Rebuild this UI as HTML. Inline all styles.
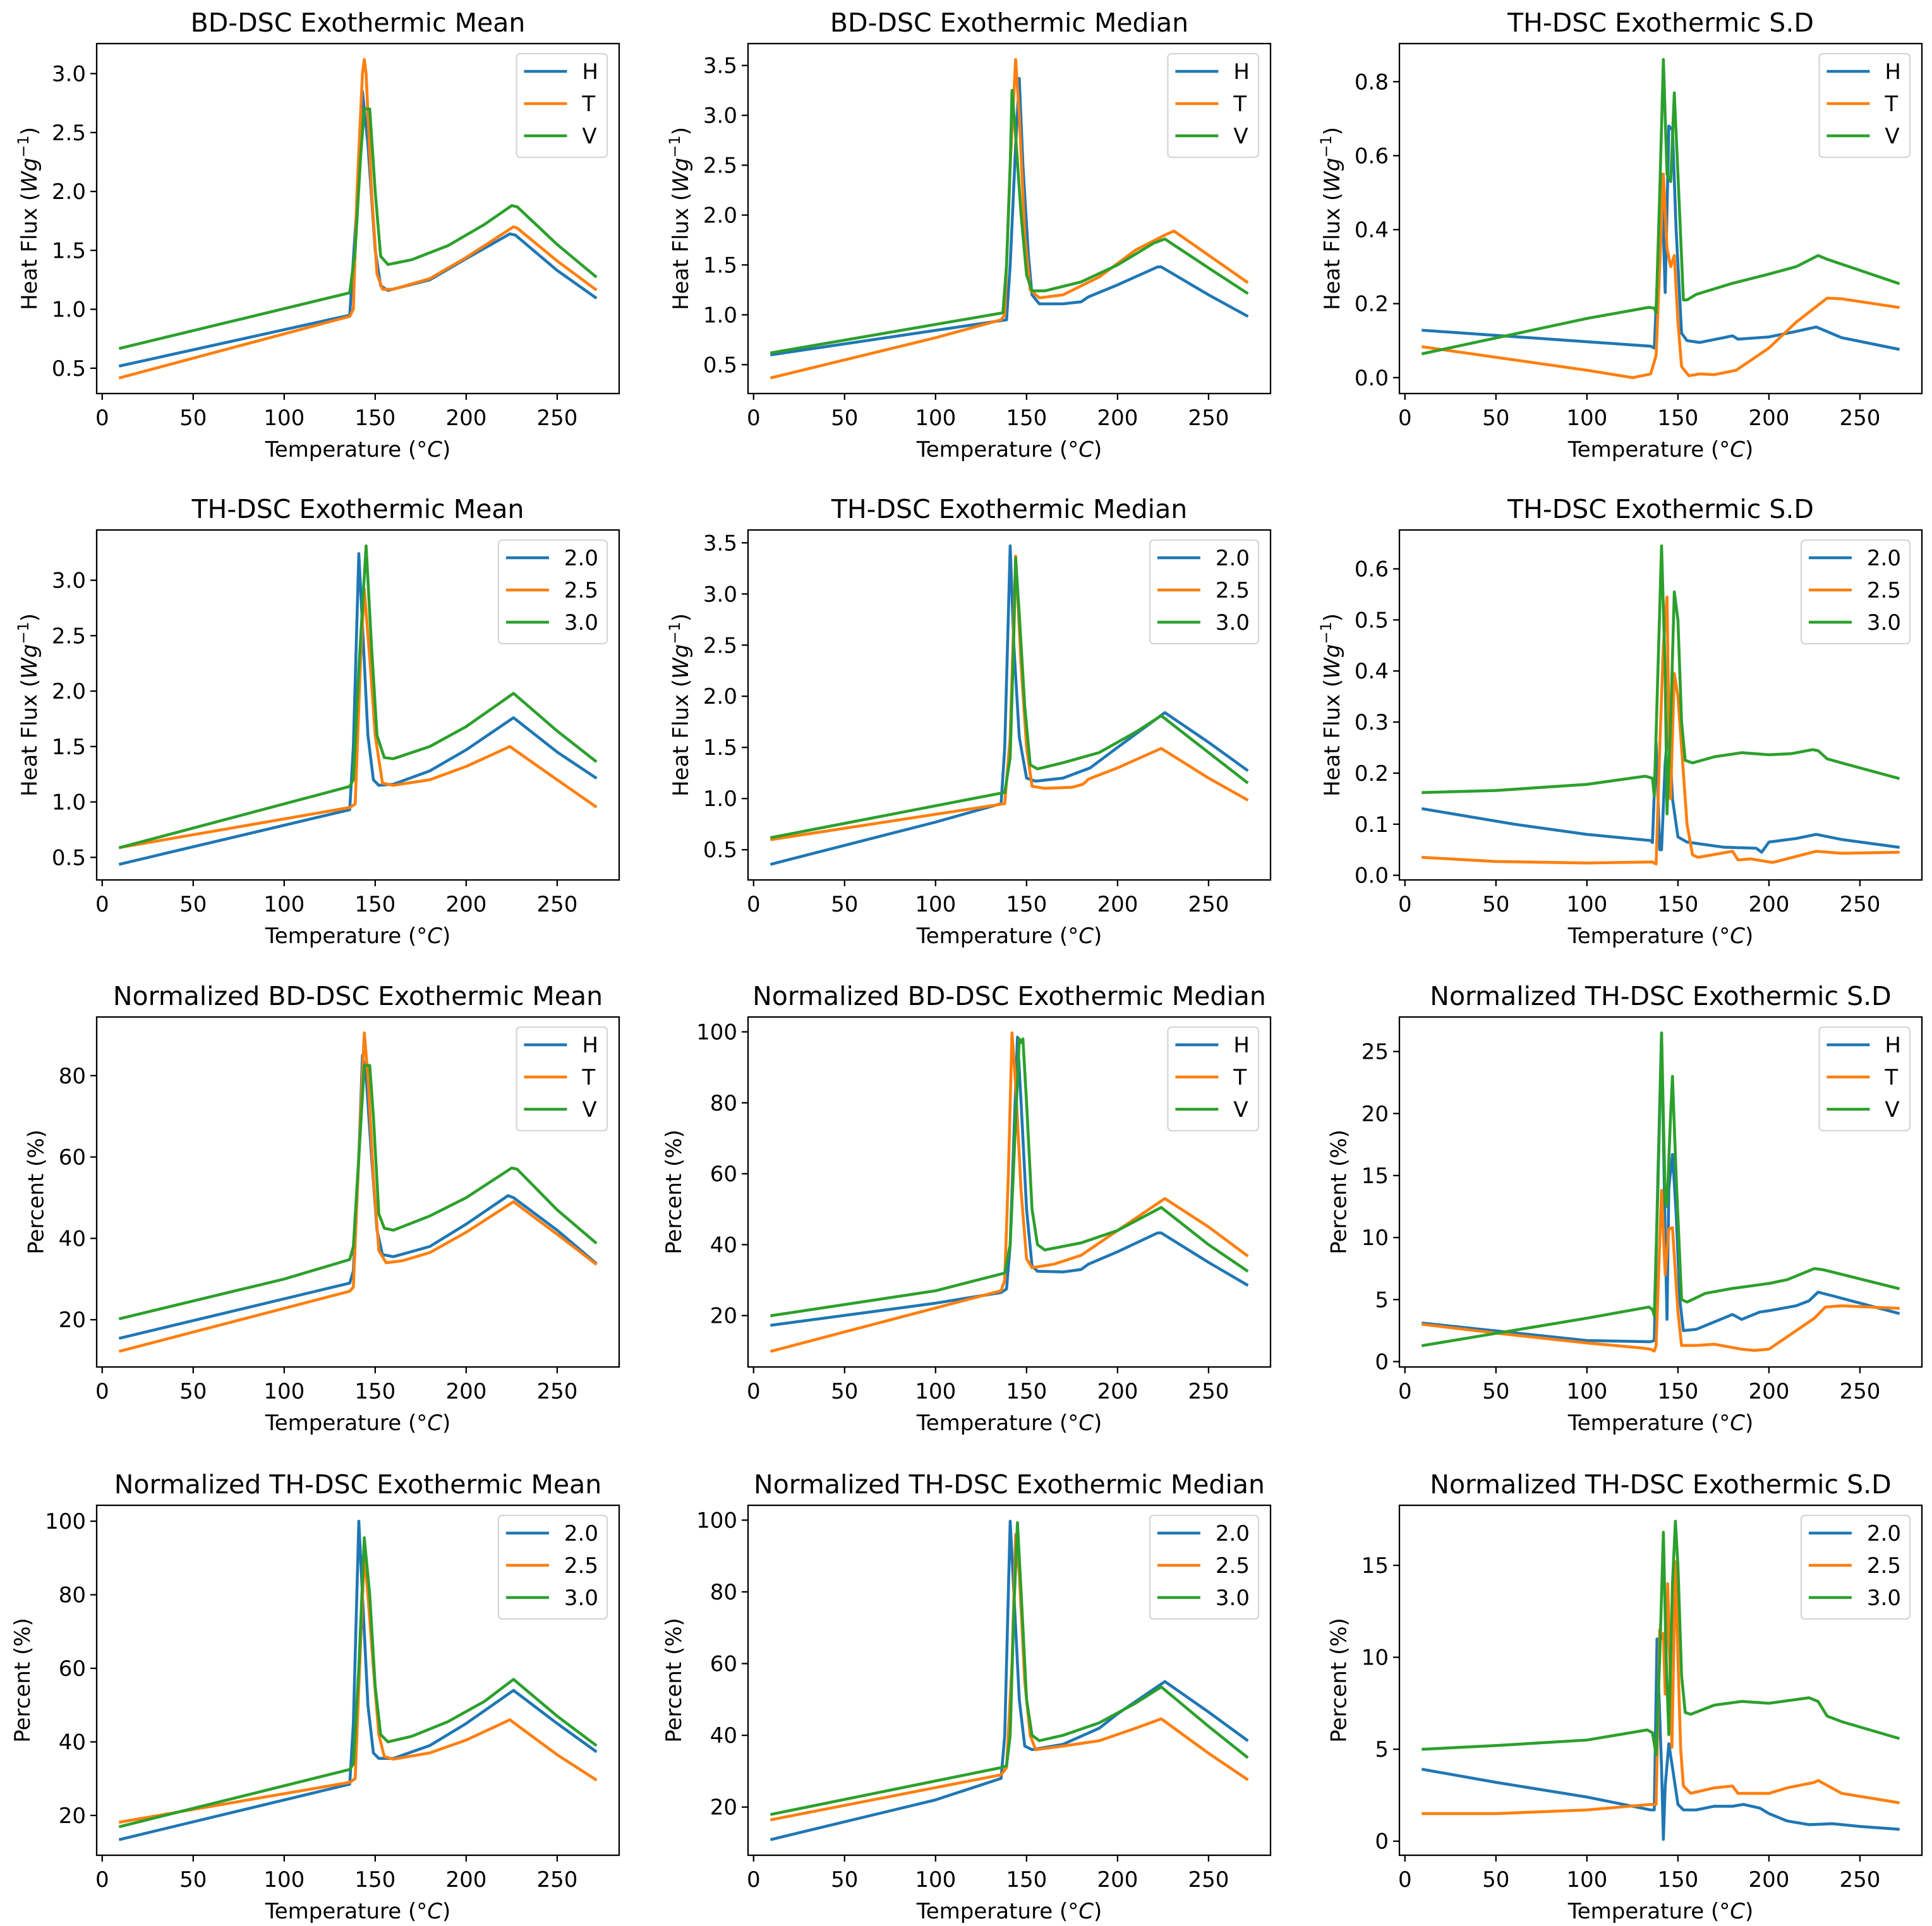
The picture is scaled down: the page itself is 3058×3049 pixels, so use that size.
<!DOCTYPE html>
<html><head><meta charset="utf-8">
<style>
html,body{margin:0;padding:0;background:#fff;}
svg{display:block;font-family:"DejaVu Sans","Liberation Sans",sans-serif;}
</style></head>
<body>
<svg id="fig" xmlns="http://www.w3.org/2000/svg" width="3058" height="3049" viewBox="0 0 3058 3049">
<rect x="0" y="0" width="3058" height="3049" fill="#fff"/>
</svg>
<script>
// ---------- Data (temperature °C, value) ----------
const xTicks = [0, 50, 100, 150, 200, 250];
const xTickLabels = ["0", "50", "100", "150", "200", "250"];
const hflLabels = ["H", "T", "V"];
const rateLabels = ["2.0", "2.5", "3.0"];

const bdMeanH = [[10,0.52],[136,0.95],[140,1.9],[143,2.85],[146,2.4],[150,1.5],[153,1.2],[157,1.16],[180,1.25],[200,1.43],[224,1.64],[227,1.63],[250,1.33],[271,1.1]];
const bdMeanT = [[10,0.42],[136,0.94],[138,1.0],[140,2.0],[143,3.0],[144,3.12],[145,3.0],[148,2.0],[151,1.3],[154,1.17],[160,1.17],[180,1.26],[200,1.44],[226,1.7],[228,1.69],[250,1.41],[271,1.17]];
const bdMeanV = [[10,0.67],[136,1.14],[139,1.5],[142,2.3],[144,2.7],[147,2.7],[150,2.0],[153,1.45],[157,1.38],[170,1.42],[190,1.54],[210,1.72],[225,1.88],[228,1.87],[250,1.55],[271,1.28]];
const bdMeanTicks = [0.5,1.0,1.5,2.0,2.5,3.0];
const bdMeanTickLabels = ["0.5","1.0","1.5","2.0","2.5","3.0"];

const bdMedH = [[10,0.6],[139,0.95],[141,1.5],[144,2.7],[146,3.37],[148,2.5],[151,1.6],[153,1.2],[157,1.11],[170,1.11],[180,1.13],[184,1.18],[200,1.3],[222,1.48],[224,1.48],[250,1.2],[271,0.99]];
const bdMedT = [[10,0.37],[100,0.77],[136,0.95],[138,1.0],[141,2.5],[144,3.56],[146,3.0],[149,1.8],[152,1.25],[157,1.17],[170,1.2],[190,1.38],[210,1.65],[226,1.8],[231,1.84],[271,1.33]];
const bdMedV = [[10,0.62],[137,1.02],[139,1.5],[141,2.5],[142,3.25],[144,2.8],[147,2.0],[150,1.4],[153,1.24],[160,1.24],[180,1.33],[200,1.5],[220,1.72],[226,1.76],[250,1.47],[271,1.22]];
const bdMedTicks = [0.5,1.0,1.5,2.0,2.5,3.0,3.5];
const bdMedTickLabels = ["0.5","1.0","1.5","2.0","2.5","3.0","3.5"];

const sd1H = [[10,0.128],[135,0.085],[137,0.08],[139,0.3],[141,0.55],[143,0.23],[145,0.68],[147,0.67],[149,0.4],[152,0.12],[155,0.1],[162,0.095],[175,0.108],[180,0.113],[183,0.104],[200,0.11],[215,0.125],[226,0.137],[240,0.108],[271,0.077]];
const sd1T = [[10,0.083],[100,0.02],[125,0.0],[135,0.01],[138,0.06],[140,0.3],[142,0.55],[144,0.35],[146,0.3],[148,0.33],[150,0.15],[152,0.03],[156,0.005],[162,0.01],[170,0.008],[182,0.02],[200,0.08],[215,0.15],[232,0.215],[240,0.213],[271,0.19]];
const sd1V = [[10,0.065],[100,0.16],[134,0.19],[137,0.188],[138,0.175],[140,0.5],[142,0.86],[144,0.55],[146,0.53],[148,0.77],[150,0.55],[153,0.21],[155,0.21],[160,0.225],[180,0.255],[200,0.28],[215,0.3],[227,0.33],[232,0.32],[271,0.255]];
const sd1Ticks = [0.0,0.2,0.4,0.6,0.8];
const sd1TickLabels = ["0.0","0.2","0.4","0.6","0.8"];

const thMean20 = [[10,0.44],[136,0.93],[138,1.5],[141,3.24],[143,2.6],[146,1.6],[149,1.2],[152,1.15],[160,1.16],[180,1.28],[200,1.47],[226,1.76],[250,1.45],[271,1.22]];
const thMean25 = [[10,0.59],[136,0.95],[139,0.98],[142,2.3],[144,2.92],[147,2.3],[150,1.6],[154,1.17],[160,1.15],[180,1.2],[200,1.32],[224,1.5],[250,1.2],[271,0.96]];
const thMean30 = [[10,0.59],[136,1.14],[138,1.2],[141,2.2],[145,3.31],[148,2.4],[151,1.6],[155,1.4],[160,1.39],[180,1.5],[200,1.68],[226,1.98],[250,1.64],[271,1.37]];
const thMeanTicks = [0.5,1.0,1.5,2.0,2.5,3.0];
const thMeanTickLabels = ["0.5","1.0","1.5","2.0","2.5","3.0"];

const thMed20 = [[10,0.36],[100,0.77],[136,0.95],[138,1.5],[140,2.8],[141,3.47],[143,2.5],[146,1.6],[150,1.2],[155,1.17],[170,1.2],[185,1.3],[200,1.5],[226,1.84],[250,1.55],[271,1.28]];
const thMed25 = [[10,0.6],[138,0.95],[141,1.6],[144,3.37],[147,2.3],[150,1.5],[153,1.12],[160,1.1],[175,1.11],[181,1.14],[184,1.19],[200,1.3],[224,1.49],[250,1.2],[271,0.99]];
const thMed30 = [[10,0.62],[138,1.06],[141,1.4],[143,2.6],[144,3.35],[146,2.8],[149,1.9],[152,1.33],[156,1.29],[170,1.35],[190,1.45],[210,1.65],[224,1.81],[250,1.45],[271,1.16]];
const thMedTicks = [0.5,1.0,1.5,2.0,2.5,3.0,3.5];
const thMedTickLabels = ["0.5","1.0","1.5","2.0","2.5","3.0","3.5"];

const sd2_20 = [[10,0.13],[60,0.1],[100,0.08],[135,0.068],[136,0.064],[138,0.26],[140,0.05],[141,0.05],[143,0.22],[145,0.3],[147,0.15],[150,0.075],[155,0.065],[175,0.055],[193,0.053],[196,0.045],[200,0.065],[215,0.072],[226,0.08],[240,0.07],[271,0.055]];
const sd2_25 = [[10,0.035],[50,0.027],[100,0.024],[136,0.026],[138,0.022],[140,0.25],[142,0.45],[144,0.545],[145,0.3],[146,0.15],[148,0.395],[150,0.35],[155,0.1],[158,0.04],[161,0.035],[180,0.047],[183,0.03],[190,0.032],[202,0.025],[226,0.047],[240,0.043],[271,0.045]];
const sd2_30 = [[10,0.162],[50,0.166],[100,0.178],[132,0.194],[136,0.19],[137,0.155],[139,0.4],[141,0.645],[143,0.4],[144,0.12],[146,0.3],[148,0.555],[150,0.5],[152,0.3],[154,0.225],[158,0.22],[170,0.232],[185,0.24],[200,0.236],[212,0.238],[224,0.246],[227,0.244],[232,0.228],[240,0.22],[271,0.19]];
const sd2Ticks = [0.0,0.1,0.2,0.3,0.4,0.5,0.6];
const sd2TickLabels = ["0.0","0.1","0.2","0.3","0.4","0.5","0.6"];

const nbdMeanH = [[10,15.5],[136,29],[138,32],[141,60],[143,85],[145,80],[148,60],[151,42],[154,36],[160,35.5],[180,38],[200,43.5],[223,50.5],[226,50],[250,42],[271,34]];
const nbdMeanT = [[10,12.3],[136,27],[138,28],[141,60],[144,90.5],[146,80],[149,55],[152,37],[156,34],[165,34.5],[180,36.5],[200,41.5],[226,49],[250,41],[271,33.8]];
const nbdMeanV = [[10,20.3],[100,30],[136,34.8],[138,38],[141,60],[144,82.5],[147,82.5],[149,70],[152,46],[155,42.5],[160,42],[180,45.5],[200,50],[225,57.3],[228,57],[250,47],[271,39]];
const nbdMeanTicks = [20,40,60,80];
const nbdMeanTickLabels = ["20","40","60","80"];

const nbdMedH = [[10,17.3],[100,23.5],[136,26.5],[139,27.5],[141,40],[143,70],[145,98.5],[147,80],[150,50],[153,34],[156,32.5],[170,32.3],[180,33],[184,34.5],[200,38],[222,43.3],[224,43.3],[250,35],[271,28.7]];
const nbdMedT = [[10,10],[136,27],[138,30],[140,60],[142,99.7],[144,85],[147,55],[150,36],[153,33.5],[165,34.5],[180,37],[200,44],[226,53],[250,45],[271,37]];
const nbdMedV = [[10,20],[100,27],[138,32],[141,40],[144,75],[146,98],[147,97],[148,98],[150,80],[153,50],[156,40],[160,38.5],[180,40.5],[200,44],[224,50.5],[250,40],[271,32.7]];
const nbdMedTicks = [20,40,60,80,100];
const nbdMedTickLabels = ["20","40","60","80","100"];

const nsd1H = [[10,3.1],[100,1.7],[135,1.6],[137,1.7],[139,15],[141,26.5],[143,10],[144,3.4],[145,14],[147,16.7],[149,12],[151,5],[153,2.5],[160,2.6],[180,3.8],[185,3.4],[190,3.7],[195,4.0],[200,4.1],[215,4.5],[222,4.9],[227,5.6],[235,5.3],[271,3.9]];
const nsd1T = [[10,3.0],[50,2.3],[100,1.5],[130,1.1],[135,1.0],[137,0.85],[138,1.3],[141,13.8],[143,7.0],[145,10.7],[147,10.8],[150,4],[152,1.3],[160,1.3],[170,1.4],[185,1.0],[192,0.9],[200,1.0],[210,2.0],[225,3.5],[231,4.4],[240,4.5],[271,4.3]];
const nsd1V = [[10,1.3],[100,3.5],[134,4.4],[136,4.2],[137,3.7],[139,14],[141,26.5],[143,13],[144,12.5],[146,20],[147,23],[149,15],[152,5],[155,4.8],[165,5.5],[180,5.9],[200,6.3],[210,6.6],[225,7.5],[230,7.4],[271,5.9]];
const nsd1Ticks = [0,5,10,15,20,25];
const nsd1TickLabels = ["0","5","10","15","20","25"];

const nthMean20 = [[10,13.5],[136,28.5],[138,45],[141,100],[143,80],[146,50],[149,37],[152,35.5],[160,35.5],[180,39],[200,45],[226,54],[250,45],[271,37.5]];
const nthMean25 = [[10,18.2],[136,29],[139,30],[141,55],[144,91],[146,80],[149,60],[152,42],[155,36],[160,35.3],[180,37],[200,40.5],[224,46],[250,36.5],[271,29.8]];
const nthMean30 = [[10,17],[136,32.5],[138,34],[141,60],[144,95.5],[147,80],[150,55],[153,42],[157,40],[170,41.5],[190,45.5],[210,51],[226,57],[250,47],[271,39.2]];
const nthMeanTicks = [20,40,60,80,100];
const nthMeanTickLabels = ["20","40","60","80","100"];

const nthMed20 = [[10,11],[100,22],[136,28],[138,40],[140,80],[141,99.7],[143,80],[146,50],[149,37],[153,36],[170,37.5],[190,42],[200,46],[226,55],[250,46.5],[271,38.7]];
const nthMed25 = [[10,16.5],[136,29],[139,31],[142,60],[144,96],[146,85],[149,55],[152,40],[155,36],[170,37],[190,38.5],[210,42],[224,44.6],[250,35],[271,27.8]];
const nthMed30 = [[10,18],[136,31],[139,31.5],[141,40],[143,75],[145,99.3],[147,80],[150,50],[153,40],[157,38.5],[170,40],[190,43.5],[210,49],[224,53.5],[250,42.5],[271,34]];
const nthMedTicks = [20,40,60,80,100];
const nthMedTickLabels = ["20","40","60","80","100"];

const nsd2_20 = [[10,3.9],[50,3.2],[100,2.4],[135,1.7],[137,1.7],[138.5,11],[141,4],[142,0.1],[143,3],[145,5.3],[147,4],[150,2.0],[153,1.7],[160,1.7],[170,1.9],[180,1.9],[186,2.0],[195,1.8],[200,1.5],[210,1.1],[222,0.9],[235,0.95],[250,0.8],[271,0.65]];
const nsd2_25 = [[10,1.5],[50,1.5],[100,1.7],[135,2.0],[138,2.0],[140,11.5],[141,11],[142,11.3],[143,8],[144.4,14],[146.7,5.1],[148.6,15.2],[150,10],[151.5,5],[153,3],[157,2.6],[170,2.9],[180,3.0],[183,2.6],[190,2.6],[200,2.6],[210,2.9],[225,3.2],[227,3.3],[240,2.6],[271,2.1]];
const nsd2_30 = [[10,5.0],[50,5.2],[100,5.5],[133,6.05],[136,5.9],[138,4.7],[140,10],[142,16.8],[143.5,10],[145,5.8],[147,14],[148.6,17.4],[150,15],[152,9],[154,7.0],[157,6.9],[170,7.4],[185,7.6],[200,7.5],[222,7.8],[227,7.6],[232,6.8],[240,6.5],[271,5.6]];
const nsd2Ticks = [0,5,10,15];
const nsd2TickLabels = ["0","5","10","15"];

// ---------- Layout ----------
const NS = "http://www.w3.org/2000/svg";
const svg = document.getElementById("fig");
const colLeft = [153, 1184, 2215];
const rowTop = [69, 839, 1610, 2383];
const AXW = 827, AXH = 554;
const COLORS = ["#1f77b4", "#ff7f0e", "#2ca02c"];
const XMIN = 10, XMAX = 271;
const xPad = (XMAX - XMIN) * 0.05;
const FS = 34, TFS = 41;

function mk(tag, attrs, parent) {
  const el = document.createElementNS(NS, tag);
  for (const k in attrs) el.setAttribute(k, attrs[k]);
  (parent || svg).appendChild(el);
  return el;
}

function drawPlot(opts) {
  const L = colLeft[opts.col], T = rowTop[opts.row];
  const g = mk("g", {});
  
  
  let ymin = Infinity, ymax = -Infinity;
  opts.series.forEach(s => s.forEach(p => { ymin = Math.min(ymin, p[1]); ymax = Math.max(ymax, p[1]); }));
  const yr = ymax - ymin;
  const y0 = ymin - 0.05 * yr, y1 = ymax + 0.05 * yr;
  const x0 = XMIN - xPad, x1 = XMAX + xPad;
  const sx = v => L + (v - x0) / (x1 - x0) * AXW;
  const sy = v => T + AXH - (v - y0) / (y1 - y0) * AXH;

  opts.series.forEach((s, i) => {
    const d = s.map((p, j) => (j ? "L" : "M") + sx(p[0]).toFixed(2) + " " + sy(p[1]).toFixed(2)).join(" ");
    const path = mk("path", {d: d, fill: "none", stroke: COLORS[i], "stroke-width": 4.6, "stroke-linejoin": "round", "stroke-linecap": "square"}, g);
    
    
  });

  const frame = mk("rect", {x: L, y: T, width: AXW, height: AXH, fill: "none", stroke: "#000", "stroke-width": 2.3}, g);
  
  

  xTicks.forEach((v, i) => {
    const x = sx(v);
    const tk = mk("line", {x1: x, x2: x, y1: T + AXH, y2: T + AXH + 10, stroke: "#000", "stroke-width": 2.3}, g);
    
    
    const tl = mk("text", {x: x, y: T + AXH + 50, "text-anchor": "middle", "font-size": FS, fill: "#000"}, g);
    tl.textContent = xTickLabels[i];
    
    
  });
  const xl = mk("text", {x: L + AXW / 2, y: T + AXH + 100, "text-anchor": "middle", "font-size": FS, fill: "#000"}, g);
  xl.innerHTML = 'Temperature (°<tspan font-style="italic">C</tspan>)';
  
  

  let maxW = 0;
  opts.yTicks.forEach((v, i) => {
    const y = sy(v);
    const tk = mk("line", {x1: L - 10, x2: L, y1: y, y2: y, stroke: "#000", "stroke-width": 2.3}, g);
    
    
    const tl = mk("text", {x: L - 17, y: y + 12, "text-anchor": "end", "font-size": FS, fill: "#000"}, g);
    tl.textContent = opts.yTickLabels[i];
    
    
    maxW = Math.max(maxW, tl.getComputedTextLength());
  });
  const yx = L - 17 - maxW - 24, yc = T + AXH / 2;
  const yl = mk("text", {x: yx, y: yc, "text-anchor": "middle", "font-size": FS, fill: "#000", transform: "rotate(-90 " + yx + " " + yc + ")"}, g);
  if (opts.percent) {
    yl.textContent = "Percent (%)";
  } else {
    yl.innerHTML = 'Heat Flux (<tspan font-style="italic">Wg</tspan><tspan font-size="24" dy="-13">−1</tspan><tspan dy="13">)</tspan>';
  }
  
  

  const tt = mk("text", {x: L + AXW / 2, y: T - 19, "text-anchor": "middle", "font-size": TFS, fill: "#000"}, g);
  tt.textContent = opts.title;
  
  

  const lg = mk("g", {}, g);
  
  
  const box = mk("rect", {x: 0, y: 0, width: 10, height: 164, rx: 6, fill: "#fff", "fill-opacity": 0.8, stroke: "#d6d6d6", "stroke-width": 2.3}, lg);
  
  
  let tw = 0;
  const texts = [];
  opts.labels.forEach((lab, i) => {
    const t = mk("text", {x: 0, y: 0, "font-size": FS, fill: "#000"}, lg);
    t.textContent = lab;
    
    
    tw = Math.max(tw, t.getComputedTextLength());
    texts.push(t);
  });
  const bw = 104 + tw + 14;
  const bx = L + AXW - 19 - bw, by = T + 16;
  box.setAttribute("x", bx); box.setAttribute("y", by); box.setAttribute("width", bw);
  opts.labels.forEach((lab, i) => {
    const ly = by + 28 + i * 51;
    const ln = mk("line", {x1: bx + 12, x2: bx + 80, y1: ly, y2: ly, stroke: COLORS[i], "stroke-width": 4.6}, lg);
    
    
    texts[i].setAttribute("x", bx + bw - 14 - tw);
    texts[i].setAttribute("y", ly + 12);
  });
}

drawPlot({name: "bd-dsc-mean-chart", row: 0, col: 0, title: "BD-DSC Exothermic Mean", series: [bdMeanH, bdMeanT, bdMeanV], labels: hflLabels, yTicks: bdMeanTicks, yTickLabels: bdMeanTickLabels});
drawPlot({name: "bd-dsc-median-chart", row: 0, col: 1, title: "BD-DSC Exothermic Median", series: [bdMedH, bdMedT, bdMedV], labels: hflLabels, yTicks: bdMedTicks, yTickLabels: bdMedTickLabels});
drawPlot({name: "bd-dsc-sd-chart", row: 0, col: 2, title: "TH-DSC Exothermic S.D", series: [sd1H, sd1T, sd1V], labels: hflLabels, yTicks: sd1Ticks, yTickLabels: sd1TickLabels});
drawPlot({name: "th-dsc-mean-chart", row: 1, col: 0, title: "TH-DSC Exothermic Mean", series: [thMean20, thMean25, thMean30], labels: rateLabels, yTicks: thMeanTicks, yTickLabels: thMeanTickLabels});
drawPlot({name: "th-dsc-median-chart", row: 1, col: 1, title: "TH-DSC Exothermic Median", series: [thMed20, thMed25, thMed30], labels: rateLabels, yTicks: thMedTicks, yTickLabels: thMedTickLabels});
drawPlot({name: "th-dsc-sd-chart", row: 1, col: 2, title: "TH-DSC Exothermic S.D", series: [sd2_20, sd2_25, sd2_30], labels: rateLabels, yTicks: sd2Ticks, yTickLabels: sd2TickLabels});
drawPlot({name: "norm-bd-dsc-mean-chart", row: 2, col: 0, title: "Normalized BD-DSC Exothermic Mean", series: [nbdMeanH, nbdMeanT, nbdMeanV], labels: hflLabels, yTicks: nbdMeanTicks, yTickLabels: nbdMeanTickLabels, percent: true});
drawPlot({name: "norm-bd-dsc-median-chart", row: 2, col: 1, title: "Normalized BD-DSC Exothermic Median", series: [nbdMedH, nbdMedT, nbdMedV], labels: hflLabels, yTicks: nbdMedTicks, yTickLabels: nbdMedTickLabels, percent: true});
drawPlot({name: "norm-bd-dsc-sd-chart", row: 2, col: 2, title: "Normalized TH-DSC Exothermic S.D", series: [nsd1H, nsd1T, nsd1V], labels: hflLabels, yTicks: nsd1Ticks, yTickLabels: nsd1TickLabels, percent: true});
drawPlot({name: "norm-th-dsc-mean-chart", row: 3, col: 0, title: "Normalized TH-DSC Exothermic Mean", series: [nthMean20, nthMean25, nthMean30], labels: rateLabels, yTicks: nthMeanTicks, yTickLabels: nthMeanTickLabels, percent: true});
drawPlot({name: "norm-th-dsc-median-chart", row: 3, col: 1, title: "Normalized TH-DSC Exothermic Median", series: [nthMed20, nthMed25, nthMed30], labels: rateLabels, yTicks: nthMedTicks, yTickLabels: nthMedTickLabels, percent: true});
drawPlot({name: "norm-th-dsc-sd-chart", row: 3, col: 2, title: "Normalized TH-DSC Exothermic S.D", series: [nsd2_20, nsd2_25, nsd2_30], labels: rateLabels, yTicks: nsd2Ticks, yTickLabels: nsd2TickLabels, percent: true});
</script>
</body></html>
